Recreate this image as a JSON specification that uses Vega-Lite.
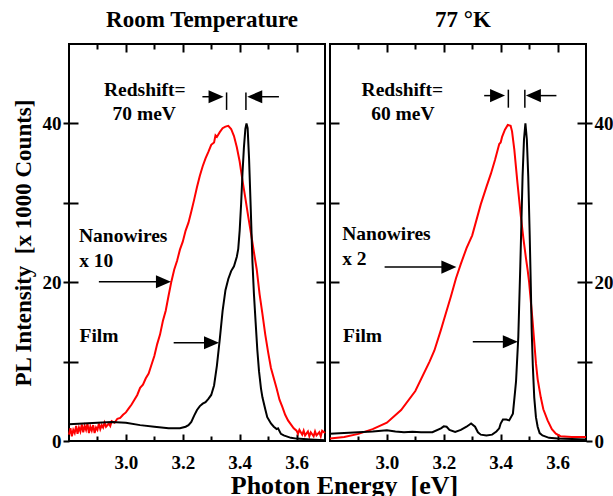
{
  "$schema": "https://vega.github.io/schema/vega-lite/v6.json",
  "padding": {"left": 11, "top": 8, "right": 0, "bottom": 0},
  "title": {"text": "Photon Energy\u00a0 [eV]", "orient": "bottom", "anchor": "middle", "fontSize": 26, "offset": 0, "dx": 32},
  "spacing": 5,
  "bounds": "flush",
  "config": {
    "view": {"stroke": "black", "strokeWidth": 2},
    "axis": {"domain": false, "grid": false, "minExtent": 0, "tickColor": "black", "tickWidth": 2, "labelFont": "Liberation Serif", "labelFontWeight": "bold", "labelFontSize": 19, "labelColor": "black", "titleFont": "Liberation Serif", "titleFontWeight": "bold", "titleFontSize": 23, "titleColor": "black"},
    "title": {"font": "Liberation Serif", "fontWeight": "bold", "fontSize": 23, "color": "black"},
    "text": {"font": "Liberation Serif", "fontWeight": "bold", "fontSize": 19.5, "color": "black"}
  },
  "datasets": {
    "rt_nw": [
      {"energy": 2.800, "counts": 0.8}, {"energy": 2.805, "counts": 1.6}, {"energy": 2.810, "counts": 0.6}, {"energy": 2.815, "counts": 1.4},
      {"energy": 2.820, "counts": 1.0}, {"energy": 2.825, "counts": 1.9}, {"energy": 2.830, "counts": 0.9}, {"energy": 2.835, "counts": 1.7},
      {"energy": 2.840, "counts": 1.2}, {"energy": 2.845, "counts": 2.1}, {"energy": 2.850, "counts": 1.1}, {"energy": 2.855, "counts": 1.9},
      {"energy": 2.860, "counts": 1.4}, {"energy": 2.865, "counts": 2.2}, {"energy": 2.870, "counts": 1.0}, {"energy": 2.875, "counts": 1.8},
      {"energy": 2.880, "counts": 1.3}, {"energy": 2.885, "counts": 2.0}, {"energy": 2.890, "counts": 1.0}, {"energy": 2.895, "counts": 1.7},
      {"energy": 2.900, "counts": 1.4}, {"energy": 2.905, "counts": 2.2}, {"energy": 2.910, "counts": 1.5}, {"energy": 2.915, "counts": 2.0},
      {"energy": 2.920, "counts": 1.7}, {"energy": 2.925, "counts": 2.3}, {"energy": 2.930, "counts": 1.8}, {"energy": 2.940, "counts": 2.2},
      {"energy": 2.945, "counts": 1.9}, {"energy": 2.950, "counts": 2.5}, {"energy": 2.960, "counts": 2.3}, {"energy": 2.970, "counts": 2.8},
      {"energy": 2.980, "counts": 2.9}, {"energy": 2.990, "counts": 3.3}, {"energy": 3.000, "counts": 3.6}, {"energy": 3.010, "counts": 4.1},
      {"energy": 3.020, "counts": 4.6}, {"energy": 3.030, "counts": 5.2}, {"energy": 3.040, "counts": 5.8}, {"energy": 3.050, "counts": 6.7},
      {"energy": 3.060, "counts": 7.1}, {"energy": 3.070, "counts": 7.9}, {"energy": 3.080, "counts": 8.5}, {"energy": 3.090, "counts": 9.6},
      {"energy": 3.100, "counts": 10.7}, {"energy": 3.110, "counts": 12.2}, {"energy": 3.120, "counts": 13.4}, {"energy": 3.130, "counts": 15.1},
      {"energy": 3.140, "counts": 16.4}, {"energy": 3.150, "counts": 18.3}, {"energy": 3.160, "counts": 20.1}, {"energy": 3.170, "counts": 21.6},
      {"energy": 3.180, "counts": 22.7}, {"energy": 3.190, "counts": 24.1}, {"energy": 3.200, "counts": 25.1}, {"energy": 3.210, "counts": 26.5},
      {"energy": 3.220, "counts": 27.5}, {"energy": 3.230, "counts": 28.9}, {"energy": 3.240, "counts": 30.4}, {"energy": 3.250, "counts": 32.0},
      {"energy": 3.260, "counts": 33.4}, {"energy": 3.270, "counts": 34.6}, {"energy": 3.280, "counts": 35.6}, {"energy": 3.290, "counts": 36.4},
      {"energy": 3.300, "counts": 37.3}, {"energy": 3.310, "counts": 37.6}, {"energy": 3.315, "counts": 38.5}, {"energy": 3.320, "counts": 38.3},
      {"energy": 3.330, "counts": 38.9}, {"energy": 3.340, "counts": 39.4}, {"energy": 3.350, "counts": 39.6}, {"energy": 3.360, "counts": 39.7},
      {"energy": 3.370, "counts": 39.3}, {"energy": 3.380, "counts": 38.4}, {"energy": 3.390, "counts": 37.0}, {"energy": 3.400, "counts": 35.2},
      {"energy": 3.410, "counts": 32.8}, {"energy": 3.420, "counts": 30.6}, {"energy": 3.430, "counts": 28.3}, {"energy": 3.440, "counts": 26.1},
      {"energy": 3.450, "counts": 23.8}, {"energy": 3.460, "counts": 21.6}, {"energy": 3.470, "counts": 18.5}, {"energy": 3.480, "counts": 16.0},
      {"energy": 3.490, "counts": 13.4}, {"energy": 3.500, "counts": 11.2}, {"energy": 3.510, "counts": 9.2}, {"energy": 3.520, "counts": 7.9},
      {"energy": 3.530, "counts": 6.6}, {"energy": 3.540, "counts": 5.2}, {"energy": 3.550, "counts": 4.3}, {"energy": 3.560, "counts": 3.3},
      {"energy": 3.570, "counts": 2.6}, {"energy": 3.580, "counts": 2.1}, {"energy": 3.590, "counts": 1.6}, {"energy": 3.600, "counts": 1.3},
      {"energy": 3.605, "counts": 0.9}, {"energy": 3.610, "counts": 1.4}, {"energy": 3.620, "counts": 0.8}, {"energy": 3.625, "counts": 1.3},
      {"energy": 3.630, "counts": 0.7}, {"energy": 3.640, "counts": 1.2}, {"energy": 3.645, "counts": 0.6}, {"energy": 3.650, "counts": 1.1},
      {"energy": 3.660, "counts": 0.6}, {"energy": 3.665, "counts": 1.2}, {"energy": 3.670, "counts": 0.7}, {"energy": 3.680, "counts": 1.1},
      {"energy": 3.685, "counts": 0.6}, {"energy": 3.690, "counts": 1.3}, {"energy": 3.700, "counts": 1.0}
    ],
    "rt_film": [
      {"energy": 2.80, "counts": 2.1}, {"energy": 2.85, "counts": 2.2}, {"energy": 2.90, "counts": 2.3}, {"energy": 2.95, "counts": 2.4},
      {"energy": 3.00, "counts": 2.3}, {"energy": 3.05, "counts": 2.0}, {"energy": 3.10, "counts": 1.8}, {"energy": 3.15, "counts": 1.6},
      {"energy": 3.19, "counts": 1.6}, {"energy": 3.21, "counts": 1.8}, {"energy": 3.22, "counts": 2.0}, {"energy": 3.23, "counts": 2.4},
      {"energy": 3.24, "counts": 3.2}, {"energy": 3.25, "counts": 3.9}, {"energy": 3.26, "counts": 4.4}, {"energy": 3.27, "counts": 4.7},
      {"energy": 3.28, "counts": 4.9}, {"energy": 3.29, "counts": 5.3}, {"energy": 3.30, "counts": 5.8}, {"energy": 3.31, "counts": 7.0},
      {"energy": 3.32, "counts": 9.5}, {"energy": 3.33, "counts": 12.8}, {"energy": 3.34, "counts": 16.4}, {"energy": 3.35, "counts": 19.0},
      {"energy": 3.36, "counts": 20.4}, {"energy": 3.37, "counts": 21.4}, {"energy": 3.38, "counts": 22.0}, {"energy": 3.39, "counts": 23.2},
      {"energy": 3.395, "counts": 24.2}, {"energy": 3.40, "counts": 26.5}, {"energy": 3.405, "counts": 29.8}, {"energy": 3.41, "counts": 33.8},
      {"energy": 3.415, "counts": 37.0}, {"energy": 3.42, "counts": 39.3}, {"energy": 3.424, "counts": 40.0}, {"energy": 3.428, "counts": 39.4},
      {"energy": 3.433, "counts": 35.6}, {"energy": 3.439, "counts": 29.2}, {"energy": 3.445, "counts": 22.5}, {"energy": 3.45, "counts": 18.6},
      {"energy": 3.456, "counts": 15.0}, {"energy": 3.462, "counts": 11.5}, {"energy": 3.468, "counts": 8.8}, {"energy": 3.475, "counts": 6.6},
      {"energy": 3.48, "counts": 5.5}, {"energy": 3.49, "counts": 4.0}, {"energy": 3.497, "counts": 3.0}, {"energy": 3.51, "counts": 2.2},
      {"energy": 3.52, "counts": 1.8}, {"energy": 3.53, "counts": 1.5}, {"energy": 3.535, "counts": 1.6}, {"energy": 3.545, "counts": 0.9},
      {"energy": 3.555, "counts": 0.7}, {"energy": 3.58, "counts": 0.4}, {"energy": 3.60, "counts": 0.3}, {"energy": 3.65, "counts": 0.2},
      {"energy": 3.70, "counts": 0.1}
    ],
    "lt_nw": [
      {"energy": 2.80, "counts": 0.3}, {"energy": 2.85, "counts": 0.5}, {"energy": 2.90, "counts": 0.9}, {"energy": 2.95, "counts": 1.5},
      {"energy": 3.00, "counts": 2.3}, {"energy": 3.05, "counts": 3.9}, {"energy": 3.10, "counts": 6.3}, {"energy": 3.15, "counts": 10.0},
      {"energy": 3.167, "counts": 11.4}, {"energy": 3.19, "counts": 14.0}, {"energy": 3.20, "counts": 15.2}, {"energy": 3.225, "counts": 18.2},
      {"energy": 3.243, "counts": 20.5}, {"energy": 3.26, "counts": 22.3}, {"energy": 3.28, "counts": 24.3}, {"energy": 3.30, "counts": 25.9},
      {"energy": 3.33, "counts": 29.8}, {"energy": 3.35, "counts": 32.0}, {"energy": 3.366, "counts": 33.7}, {"energy": 3.38, "counts": 35.4},
      {"energy": 3.395, "counts": 37.4}, {"energy": 3.40, "counts": 37.6}, {"energy": 3.405, "counts": 38.3}, {"energy": 3.415, "counts": 39.2},
      {"energy": 3.425, "counts": 39.8}, {"energy": 3.435, "counts": 39.7}, {"energy": 3.44, "counts": 39.0}, {"energy": 3.448, "counts": 36.7},
      {"energy": 3.459, "counts": 32.5}, {"energy": 3.471, "counts": 28.3}, {"energy": 3.48, "counts": 25.5}, {"energy": 3.489, "counts": 23.0},
      {"energy": 3.495, "counts": 21.5}, {"energy": 3.50, "counts": 20.0}, {"energy": 3.512, "counts": 15.2}, {"energy": 3.524, "counts": 9.8},
      {"energy": 3.53, "counts": 7.8}, {"energy": 3.541, "counts": 5.5}, {"energy": 3.55, "counts": 4.0}, {"energy": 3.565, "counts": 2.6},
      {"energy": 3.58, "counts": 1.5}, {"energy": 3.594, "counts": 0.93}, {"energy": 3.61, "counts": 0.6}, {"energy": 3.65, "counts": 0.5},
      {"energy": 3.70, "counts": 0.5}
    ],
    "lt_film": [
      {"energy": 2.80, "counts": 0.9}, {"energy": 2.85, "counts": 1.0}, {"energy": 2.90, "counts": 1.1}, {"energy": 2.95, "counts": 1.2},
      {"energy": 3.00, "counts": 1.35}, {"energy": 3.03, "counts": 1.2}, {"energy": 3.06, "counts": 1.1}, {"energy": 3.09, "counts": 1.15},
      {"energy": 3.12, "counts": 1.1}, {"energy": 3.16, "counts": 1.1}, {"energy": 3.19, "counts": 1.6}, {"energy": 3.20, "counts": 1.85},
      {"energy": 3.21, "counts": 1.8}, {"energy": 3.22, "counts": 1.4}, {"energy": 3.24, "counts": 1.15}, {"energy": 3.26, "counts": 1.4},
      {"energy": 3.28, "counts": 1.8}, {"energy": 3.296, "counts": 2.2}, {"energy": 3.31, "counts": 1.8}, {"energy": 3.32, "counts": 1.1},
      {"energy": 3.33, "counts": 0.8}, {"energy": 3.35, "counts": 0.7}, {"energy": 3.37, "counts": 0.8}, {"energy": 3.385, "counts": 1.2},
      {"energy": 3.395, "counts": 1.6}, {"energy": 3.40, "counts": 2.2}, {"energy": 3.408, "counts": 2.7}, {"energy": 3.42, "counts": 2.7},
      {"energy": 3.43, "counts": 2.6}, {"energy": 3.443, "counts": 3.45}, {"energy": 3.45, "counts": 6.0}, {"energy": 3.454, "counts": 7.5},
      {"energy": 3.462, "counts": 13.1}, {"energy": 3.469, "counts": 22.0}, {"energy": 3.477, "counts": 33.3}, {"energy": 3.482, "counts": 38.0},
      {"energy": 3.487, "counts": 40.0}, {"energy": 3.492, "counts": 38.0}, {"energy": 3.497, "counts": 33.3}, {"energy": 3.502, "counts": 26.0},
      {"energy": 3.506, "counts": 19.5}, {"energy": 3.509, "counts": 14.0}, {"energy": 3.513, "counts": 9.5}, {"energy": 3.518, "counts": 5.5},
      {"energy": 3.524, "counts": 3.0}, {"energy": 3.53, "counts": 1.8}, {"energy": 3.537, "counts": 1.0}, {"energy": 3.547, "counts": 0.7},
      {"energy": 3.57, "counts": 0.4}, {"energy": 3.60, "counts": 0.3}, {"energy": 3.70, "counts": 0.2}
    ],
    "rt_text": [
      {"label": "Redshift=", "x": 2.923, "y": 43.4},
      {"label": "70 meV", "x": 2.953, "y": 40.47},
      {"label": "Nanowires", "x": 2.835, "y": 25.07},
      {"label": "x 10", "x": 2.836, "y": 21.96},
      {"label": "Film", "x": 2.837, "y": 12.49}
    ],
    "lt_text": [
      {"label": "Redshift=", "x": 2.911, "y": 43.4},
      {"label": "60 meV", "x": 2.945, "y": 40.47},
      {"label": "Nanowires", "x": 2.843, "y": 25.3},
      {"label": "x 2", "x": 2.843, "y": 22.2},
      {"label": "Film", "x": 2.846, "y": 12.49}
    ],
    "rt_arrows": [
      {"x": 3.269, "x2": 3.30, "y": 43.36},
      {"x": 3.44, "x2": 3.538, "y": 43.36},
      {"x": 2.905, "x2": 3.12, "y": 20.06},
      {"x": 3.168, "x2": 3.29, "y": 12.37}
    ],
    "lt_arrows": [
      {"x": 3.342, "x2": 3.37, "y": 43.5},
      {"x": 3.53, "x2": 3.596, "y": 43.5},
      {"x": 2.992, "x2": 3.21, "y": 21.9},
      {"x": 3.302, "x2": 3.42, "y": 12.5}
    ],
    "rt_heads": [
      {"x": 3.317, "y": 43.36, "dir": "right"},
      {"x": 3.453, "y": 43.36, "dir": "left"},
      {"x": 3.132, "y": 20.06, "dir": "right"},
      {"x": 3.301, "y": 12.37, "dir": "right"}
    ],
    "lt_heads": [
      {"x": 3.389, "y": 43.5, "dir": "right"},
      {"x": 3.515, "y": 43.5, "dir": "left"},
      {"x": 3.218, "y": 21.9, "dir": "right"},
      {"x": 3.434, "y": 12.5, "dir": "right"}
    ],
    "rt_bars": [
      {"x": 3.354, "y": 41.7, "y2": 43.9},
      {"x": 3.422, "y": 41.7, "y2": 43.9}
    ],
    "lt_bars": [
      {"x": 3.427, "y": 41.98, "y2": 44.25},
      {"x": 3.485, "y": 41.98, "y2": 44.25}
    ]
  },
  "hconcat": [
    {
      "width": 256, "height": 397,
      "title": {"text": "Room Temperature", "offset": 11, "dx": 5},
      "resolve": {"axis": {"x": "independent", "y": "independent"}},
      "layer": [
        {
          "data": {"name": "rt_nw"},
          "mark": {"type": "line", "color": "#ff0000", "strokeWidth": 2},
          "encoding": {
            "x": {"field": "energy", "type": "quantitative", "scale": {"domain": [2.8, 3.7], "nice": false, "zero": false},
                  "axis": {"orient": "bottom", "values": [3.0, 3.2, 3.4, 3.6], "format": ".1f", "tickSize": -7, "labelPadding": 19, "title": null}},
            "y": {"field": "counts", "type": "quantitative", "scale": {"domain": [0, 50], "nice": false, "zero": false},
                  "axis": {"orient": "left", "values": [0, 10, 20, 30, 40], "labelExpr": "datum.value % 20 === 0 ? datum.label : ''", "tickSize": 6, "labelPadding": 2, "title": "PL Intensity\u00a0 [x 1000 Counts]", "titlePadding": 7}}
          }
        },
        {
          "data": {"name": "rt_film"},
          "mark": {"type": "line", "color": "#000000", "strokeWidth": 2},
          "encoding": {
            "x": {"field": "energy", "type": "quantitative", "scale": {"domain": [2.8, 3.7], "nice": false, "zero": false},
                  "axis": {"orient": "bottom", "values": [2.9, 3.1, 3.3, 3.5], "tickSize": -5, "labels": false, "labelPadding": 0, "title": null}},
            "y": {"field": "counts", "type": "quantitative", "scale": {"domain": [0, 50], "nice": false, "zero": false},
                  "axis": {"orient": "left", "values": [10, 20, 30, 40], "tickSize": -9, "labels": false, "labelPadding": 0, "title": null}}
          }
        },
        {
          "data": {"name": "rt_text"},
          "mark": {"type": "text", "align": "left", "baseline": "alphabetic"},
          "encoding": {
            "x": {"field": "x", "type": "quantitative", "scale": {"domain": [2.8, 3.7], "nice": false, "zero": false},
                  "axis": {"orient": "top", "values": [3.0, 3.2, 3.4, 3.6], "tickSize": -8, "labels": false, "labelPadding": 0, "title": null}},
            "y": {"field": "y", "type": "quantitative", "scale": {"domain": [0, 50], "nice": false, "zero": false},
                  "axis": {"orient": "right", "values": [10, 20, 30, 40], "tickSize": -9, "labels": false, "labelPadding": 0, "title": null}},
            "text": {"field": "label", "type": "nominal"}
          }
        },
        {
          "data": {"name": "rt_arrows"},
          "mark": {"type": "rule", "color": "black", "strokeWidth": 1.5},
          "encoding": {
            "x": {"field": "x", "type": "quantitative", "scale": {"domain": [2.8, 3.7], "nice": false, "zero": false},
                  "axis": {"orient": "top", "values": [2.9, 3.1, 3.3, 3.5], "tickSize": -5, "labels": false, "labelPadding": 0, "title": null}},
            "x2": {"field": "x2"},
            "y": {"field": "y", "type": "quantitative", "scale": {"domain": [0, 50], "nice": false, "zero": false}, "axis": null}
          }
        },
        {
          "data": {"name": "rt_heads"},
          "mark": {"type": "point", "filled": true, "color": "black", "opacity": 1, "size": 225},
          "encoding": {
            "x": {"field": "x", "type": "quantitative", "scale": {"domain": [2.8, 3.7], "nice": false, "zero": false}, "axis": null},
            "y": {"field": "y", "type": "quantitative", "scale": {"domain": [0, 50], "nice": false, "zero": false}, "axis": null},
            "shape": {"field": "dir", "type": "nominal", "legend": null,
                      "scale": {"domain": ["right", "left"], "range": ["M-1,-0.87L1,0L-1,0.87Z", "M1,-0.87L-1,0L1,0.87Z"]}}
          }
        },
        {
          "data": {"name": "rt_bars"},
          "mark": {"type": "rule", "color": "black", "strokeWidth": 1.5},
          "encoding": {
            "x": {"field": "x", "type": "quantitative", "scale": {"domain": [2.8, 3.7], "nice": false, "zero": false}, "axis": null},
            "y": {"field": "y", "type": "quantitative", "scale": {"domain": [0, 50], "nice": false, "zero": false}, "axis": null},
            "y2": {"field": "y2"}
          }
        }
      ]
    },
    {
      "width": 256, "height": 397,
      "title": {"text": "77 °K", "offset": 11, "dx": 5},
      "resolve": {"axis": {"x": "independent", "y": "independent"}},
      "layer": [
        {
          "data": {"name": "lt_nw"},
          "mark": {"type": "line", "color": "#ff0000", "strokeWidth": 2},
          "encoding": {
            "x": {"field": "energy", "type": "quantitative", "scale": {"domain": [2.8, 3.7], "nice": false, "zero": false},
                  "axis": {"orient": "bottom", "values": [3.0, 3.2, 3.4, 3.6], "format": ".1f", "tickSize": -7, "labelPadding": 19, "title": null}},
            "y": {"field": "counts", "type": "quantitative", "scale": {"domain": [0, 50], "nice": false, "zero": false},
                  "axis": {"orient": "right", "values": [0, 10, 20, 30, 40], "labelExpr": "datum.value % 20 === 0 ? datum.label : ''", "tickSize": 6, "labelPadding": 2, "title": null}}
          }
        },
        {
          "data": {"name": "lt_film"},
          "mark": {"type": "line", "color": "#000000", "strokeWidth": 2},
          "encoding": {
            "x": {"field": "energy", "type": "quantitative", "scale": {"domain": [2.8, 3.7], "nice": false, "zero": false},
                  "axis": {"orient": "bottom", "values": [2.9, 3.1, 3.3, 3.5], "tickSize": -5, "labels": false, "labelPadding": 0, "title": null}},
            "y": {"field": "counts", "type": "quantitative", "scale": {"domain": [0, 50], "nice": false, "zero": false},
                  "axis": {"orient": "right", "values": [10, 20, 30, 40], "tickSize": -9, "labels": false, "labelPadding": 0, "title": null}}
          }
        },
        {
          "data": {"name": "lt_text"},
          "mark": {"type": "text", "align": "left", "baseline": "alphabetic"},
          "encoding": {
            "x": {"field": "x", "type": "quantitative", "scale": {"domain": [2.8, 3.7], "nice": false, "zero": false},
                  "axis": {"orient": "top", "values": [3.0, 3.2, 3.4, 3.6], "tickSize": -8, "labels": false, "labelPadding": 0, "title": null}},
            "y": {"field": "y", "type": "quantitative", "scale": {"domain": [0, 50], "nice": false, "zero": false},
                  "axis": {"orient": "left", "values": [10, 20, 30, 40], "tickSize": -9, "labels": false, "labelPadding": 0, "title": null}},
            "text": {"field": "label", "type": "nominal"}
          }
        },
        {
          "data": {"name": "lt_arrows"},
          "mark": {"type": "rule", "color": "black", "strokeWidth": 1.5},
          "encoding": {
            "x": {"field": "x", "type": "quantitative", "scale": {"domain": [2.8, 3.7], "nice": false, "zero": false},
                  "axis": {"orient": "top", "values": [2.9, 3.1, 3.3, 3.5], "tickSize": -5, "labels": false, "labelPadding": 0, "title": null}},
            "x2": {"field": "x2"},
            "y": {"field": "y", "type": "quantitative", "scale": {"domain": [0, 50], "nice": false, "zero": false}, "axis": null}
          }
        },
        {
          "data": {"name": "lt_heads"},
          "mark": {"type": "point", "filled": true, "color": "black", "opacity": 1, "size": 225},
          "encoding": {
            "x": {"field": "x", "type": "quantitative", "scale": {"domain": [2.8, 3.7], "nice": false, "zero": false}, "axis": null},
            "y": {"field": "y", "type": "quantitative", "scale": {"domain": [0, 50], "nice": false, "zero": false}, "axis": null},
            "shape": {"field": "dir", "type": "nominal", "legend": null,
                      "scale": {"domain": ["right", "left"], "range": ["M-1,-0.87L1,0L-1,0.87Z", "M1,-0.87L-1,0L1,0.87Z"]}}
          }
        },
        {
          "data": {"name": "lt_bars"},
          "mark": {"type": "rule", "color": "black", "strokeWidth": 1.5},
          "encoding": {
            "x": {"field": "x", "type": "quantitative", "scale": {"domain": [2.8, 3.7], "nice": false, "zero": false}, "axis": null},
            "y": {"field": "y", "type": "quantitative", "scale": {"domain": [0, 50], "nice": false, "zero": false}, "axis": null},
            "y2": {"field": "y2"}
          }
        }
      ]
    }
  ]
}
